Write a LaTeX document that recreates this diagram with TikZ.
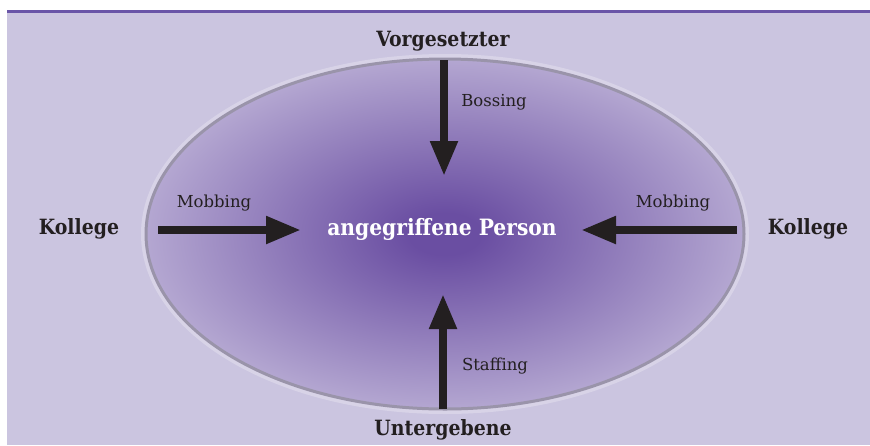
\documentclass[tikz,border=0pt]{standalone}
\usepackage{fontspec}
\setmainfont{DejaVu Serif}
\newfontfamily\condfont{DejaVu Serif Condensed}
\usetikzlibrary{arrows.meta}
\definecolor{bgc}{HTML}{CBC5E0}
\definecolor{topline}{HTML}{6A55A8}
\definecolor{pin}{HTML}{6A4EA2}
\definecolor{pout}{HTML}{C8BFDE}
\definecolor{rimc}{HTML}{9A94AA}
\definecolor{txt}{HTML}{231F20}
\pgfdeclareradialshading{ellshade}{\pgfpoint{0bp}{0bp}}{color(0bp)=(pin); color(3bp)=(pin); color(31bp)=(pout); color(100bp)=(pout)}
\tikzset{
  mainlbl/.style={font=\condfont\fontsize{21}{24}\selectfont\bfseries, text=txt, inner sep=0pt},
  centerlbl/.style={font=\condfont\fontsize{22.5}{26}\selectfont\bfseries, text=white, inner sep=0pt},
  smalllbl/.style={font=\fontsize{16.5}{19}\selectfont, text=txt, inner sep=0pt},
  bigarrow/.style={draw=txt, line width=8pt, -{Triangle[width=26pt,length=35pt]}}
}
\begin{document}
\begin{tikzpicture}[x=1pt,y=-1pt]
\useasboundingbox (0,0) rectangle (870,445);
\fill[white] (0,0) rectangle (870,445);
\fill[bgc] (7,12) rectangle (870,445);
\fill[topline] (7,10) rectangle (870,13);
\draw[white, opacity=0.25, line width=8pt] (445,234) ellipse [x radius=300, y radius=176];
\path[shading=ellshade, draw=rimc, line width=3pt] (445,234) ellipse [x radius=299, y radius=175];
% labels
\node[mainlbl] (vor) at (443,41) {Vorgesetzter};
\node[mainlbl] (unt) at (443,430) {Untergebene};
\node[mainlbl] (kl) at (79,229) {Kollege};
\node[mainlbl] (kr) at (808,229) {Kollege};
\node[centerlbl] (ap) at (442,229) {angegriffene Person};
\coordinate (ttail) at (444,60);
\coordinate (thead) at (444,176);
\coordinate (btail) at (443,409);
\coordinate (bhead) at (443,294);
\coordinate (ltail) at (158,230);
\coordinate (lhead) at (301,230);
\coordinate (rtail) at (737,230);
\coordinate (rhead) at (581,230);
\draw[bigarrow] (ttail) -- (thead);
\draw[bigarrow] (btail) -- (bhead);
\draw[bigarrow] (ltail) -- (lhead);
\draw[bigarrow] (rtail) -- (rhead);
\node[smalllbl] (lb) at (494,102) {Bossing};
\node[smalllbl] (ls) at (495,366) {Staffing};
\node[smalllbl] (lml) at (214,203) {Mobbing};
\node[smalllbl] (lmr) at (673,203) {Mobbing};
\end{tikzpicture}
\end{document}
